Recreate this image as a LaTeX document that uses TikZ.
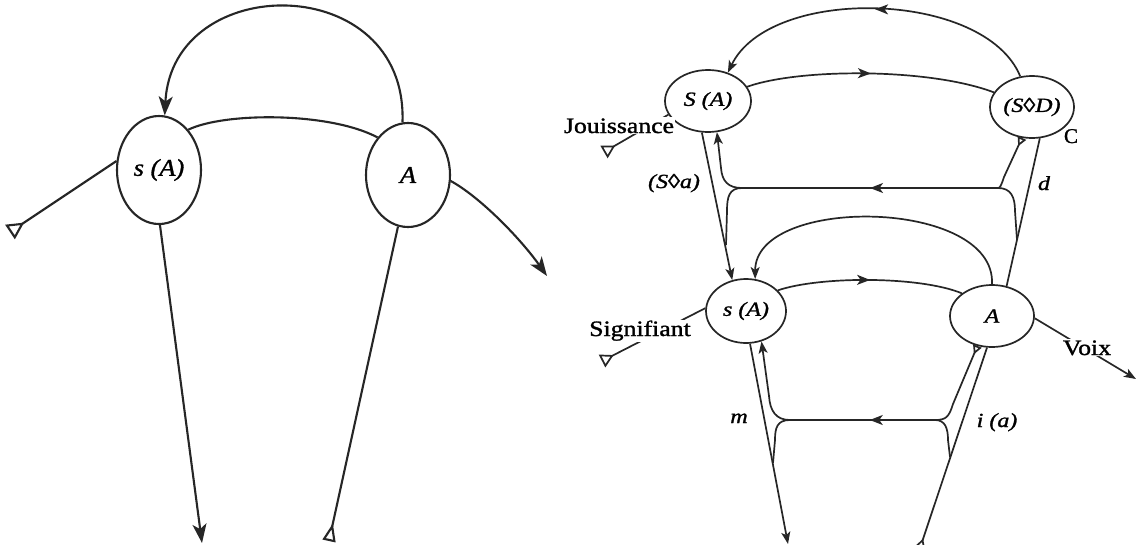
\documentclass[tikz,border=0pt]{standalone}
\usepackage{fontspec}
\setmainfont{Liberation Serif}[FakeBold=0.4]
\newfontfamily\labelfont{Liberation Serif}[FakeBold=1.2,ItalicFeatures={FakeBold=1.2}]
\usetikzlibrary{arrows.meta,shapes.geometric,decorations.markings}

% widen a label horizontally
\newcommand{\xwide}[2]{\scalebox{#1}[1]{#2}}
\colorlet{ink}{black!85}

\tikzset{
  lstroke/.style={draw=ink, line width=2.1pt, line join=round},
  rstroke/.style={draw=ink, line width=1.7pt, line join=round},
  bub/.style={rstroke, ellipse, inner sep=0pt, text=black,
    font=\labelfont\fontsize{20}{24}\selectfont\itshape},
  lbub/.style={bub, line width=2.1pt, font=\labelfont\fontsize{24}{28}\selectfont\itshape},
  headS/.style={-{Stealth[length=12pt,width=9pt,inset=3pt]}},
  headL/.style={-{Stealth[length=19pt,width=14pt,inset=5pt]}},
  tailL/.style={{Triangle[open,reversed,length=17pt,width=17pt]}-},
  tailN/.style={{Triangle[open,reversed,length=18pt,width=13pt]}-},
  tailM/.style={{Triangle[open,reversed,length=13pt,width=14pt]}-},
  tailS/.style={{Triangle[open,reversed,length=9pt,width=9pt]}-},
  midarrow/.style={postaction={decorate},
    decoration={markings, mark=at position #1 with
      {\arrow{Stealth[length=13pt,width=10pt,inset=3.5pt]}}}},
  midarrow/.default=0.5,
  word/.style={text=black, inner sep=1pt, anchor=base,
    font=\labelfont\fontsize{22}{26}\selectfont},
  itword/.style={text=black, inner sep=1pt, anchor=base,
    font=\labelfont\fontsize{20}{24}\selectfont\itshape},
}

\begin{document}
\begin{tikzpicture}[x=1pt,y=-1pt]
\useasboundingbox[fill=white] (0,0) rectangle (1137,544);

% ---------- elementary cell ----------
\node[lbub, minimum width=84pt, minimum height=108pt] (ls) at (159,170) {\xwide{1.1}{s (A)}};
\node[lbub, minimum width=84pt, minimum height=104pt] (lA) at (408,175) {\xwide{1.1}{A}};

\coordinate (lt1) at (10,232);
\coordinate (lt2) at (329,541);
\coordinate (le1) at (202,543);
\coordinate (le2) at (547,276);

\draw[lstroke] (ls.54) .. controls (225,112) and (330,112) .. (lA.129);
\draw[lstroke, headL] (lA.96) .. controls (408,-30) and (172,-30) .. (ls.84);
\draw[lstroke, tailL] (lt1) -- (ls.168);
\draw[lstroke, headL] (ls.271) -- (le1);
\draw[lstroke, tailN] (lt2) -- (lA.259);
\draw[lstroke, headL] (lA.352) .. controls (480,197) and (520,238) .. (le2);

% ---------- complete graph ----------
\node[bub, minimum width=86pt, minimum height=62pt] (SA) at (708,101) {\xwide{1.2}{S (A)}};
\node[bub, minimum width=84pt, minimum height=62pt] (SD) at (1032,107) {\xwide{1.2}{(S◊D)}};
\node[bub, minimum width=80pt, minimum height=64pt] (sa) at (746,311) {\xwide{1.2}{s (A)}};
\node[bub, minimum width=84pt, minimum height=62pt] (AA) at (992,316) {\xwide{1.2}{A}};

\coordinate (J1) at (742,188);
\coordinate (J2) at (998,188);
\coordinate (J3) at (790,420);
\coordinate (J4) at (935,420);
\coordinate (tJ) at (604,152);
\coordinate (tS) at (602,361);
\coordinate (tI) at (919,551);
\coordinate (eM) at (788,544);
\coordinate (eV) at (1136,379);

% upper level
\draw[rstroke, midarrow, headS] (SD.111) .. controls (985,-10) and (770,-15) .. (SA.55);
\draw[rstroke, midarrow] (SA.20) .. controls (800,68) and (930,68) .. (SD.159);
\draw[rstroke, tailM] (tJ) -- (SA.199);
\draw[rstroke, headS] (SA.259) -- (sa.114);
\draw[rstroke, tailS] (SD.252) -- (1004,177) .. controls (1001,186) and (1000,188) .. (J2);
\draw[rstroke, midarrow] (J2) -- (J1);
\draw[rstroke, headS] (J1) .. controls (728,188) and (722,181) .. (721,168) -- (SA.286);
\draw[rstroke] (J1) .. controls (729,188) and (727,197) .. (727,211) -- (726,245);
\draw[rstroke] (J2) .. controls (1011,188) and (1015,197) .. (1015,211) -- (1017,240);
\draw[rstroke] (SD.284) -- (AA.64);

% lower level
\draw[rstroke, headS] (AA.90) .. controls (996,198) and (755,195) .. (sa.74);
\draw[rstroke, midarrow] (sa.33) .. controls (820,276) and (920,276) .. (AA.143);
\draw[rstroke, tailM] (tS) -- (sa.176);
\draw[rstroke, headS] (sa.277) -- (eM);
\draw[rstroke, tailS] (AA.244) -- (953,404) .. controls (949,417) and (946,420) .. (J4);
\draw[rstroke, midarrow=0.45] (J4) -- (J3);
\draw[rstroke, headS] (J3) .. controls (776,420) and (770,411) .. (769,396) -- (sa.297);
\draw[rstroke] (J3) .. controls (777,420) and (775,428) .. (775,440) -- (773,463);
\draw[rstroke] (J4) .. controls (945,420) and (948,428) .. (948,440) -- (950,457);
\draw[rstroke, tailM] (tI) -- (AA.261);
\draw[rstroke, headS] (AA.357) -- (eV);

% labels
\node[word, fill=white] (wJ) at (619,133) {\xwide{1.17}{Jouissance}};
\node[word, fill=white] (wS) at (640,336) {\xwide{1.17}{Signifiant}};
\node[word, fill=white] (wV) at (1087,355) {\xwide{1.17}{Voix}};
\node[itword] (lSa) at (674,188) {\xwide{1.2}{(S◊a)}};
\node[itword] (ld) at (1044,190) {\xwide{1.2}{d}};
\node[itword] (lm) at (739,423) {\xwide{1.2}{m}};
\node[itword] (lia) at (997,427) {\xwide{1.2}{i (a)}};
\node[word, font=\labelfont\fontsize{21}{24}\selectfont] (lC) at (1071,143) {C};
\end{tikzpicture}
\end{document}
